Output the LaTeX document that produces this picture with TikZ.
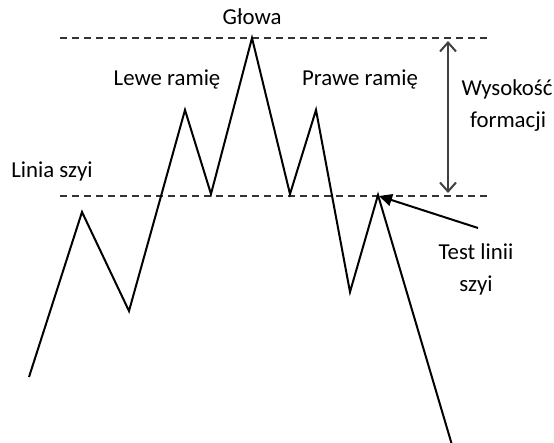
\documentclass[tikz,border=0pt]{standalone}
\usepackage{fontspec}
\setmainfont{Carlito}
\usetikzlibrary{arrows.meta}
\begin{document}
\begin{tikzpicture}[x=1pt,y=-1pt,
  lbl/.style={inner sep=0pt, font=\fontsize{22.8}{27}\selectfont},
  guide/.style={draw=black!80, line width=2pt, dash pattern=on 7pt off 5pt},
  price/.style={draw=black, line width=2pt, line join=miter},
  height/.style={draw=black!75, line width=2pt, {Straight Barb[length=9pt,width=16pt]}-{Straight Barb[length=9pt,width=16pt]}},
  pointer/.style={draw=black, line width=2pt, -{Triangle[length=13pt,width=12pt]}}]
\useasboundingbox (0,0) rectangle (554,443);
% guide lines
\coordinate (t1) at (60,38); \coordinate (t2) at (491,38);
\coordinate (b1) at (60,196); \coordinate (b2) at (491,196);
\draw[guide] (t1) -- (t2);
\draw[guide] (b1) -- (b2);
% price path
\coordinate (p0) at (29,377);
\coordinate (p1) at (82,212);
\coordinate (p2) at (129,311);
\coordinate (p3) at (185,110);
\coordinate (p4) at (211,194);
\coordinate (p5) at (252,38);
\coordinate (p6) at (290,194);
\coordinate (p7) at (316,110);
\coordinate (p8) at (350,292);
\coordinate (p9) at (378,195);
\coordinate (p10) at (452,445);
\draw[price] (p0) -- (p1) -- (p2) -- (p3) -- (p4) -- (p5) -- (p6) -- (p7) -- (p8) -- (p9) -- (p10);
% height arrow
\coordinate (h1) at (448,41); \coordinate (h2) at (448,193);
\draw[height] (h1) -- (h2);
% labels
\node[lbl] (glowa) at (252,17) {Głowa};
\node[lbl] (lewe) at (167,79) {Lewe ramię};
\node[lbl] (prawe) at (360,79) {Prawe ramię};
\node[lbl] (linia) at (52,171) {Linia szyi};
\node[lbl] (wys) at (507,89) {Wysokość};
\node[lbl] (form) at (508,122) {formacji};
\node[lbl] (test) at (476,252) {Test linii};
\node[lbl] (szyi) at (476,285) {szyi};
% pointer
\coordinate (a1) at (478,228);
\coordinate (a2) at (379,196);
\draw[pointer] (a1) -- (a2);
\end{tikzpicture}
\end{document}
